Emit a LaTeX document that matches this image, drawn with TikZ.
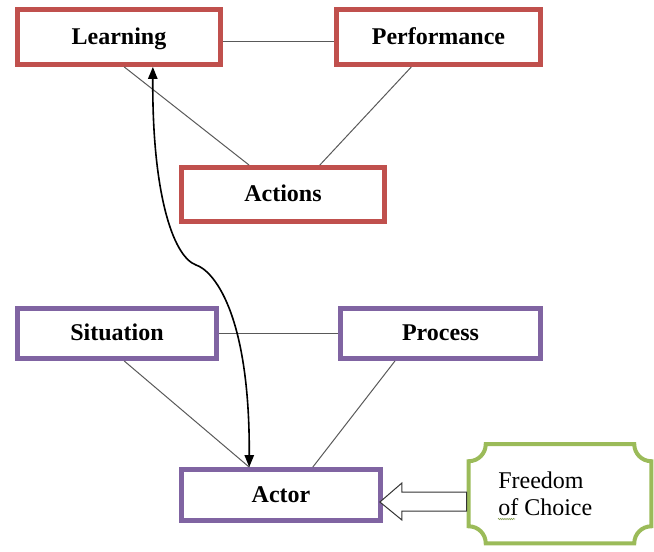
\documentclass[tikz,border=0pt]{standalone}
\usepackage{fontspec}
\setmainfont{Liberation Serif}
\usetikzlibrary{calc,arrows.meta,decorations.pathmorphing}
\definecolor{boxred}{HTML}{C0504D}
\definecolor{boxpurple}{HTML}{8064A2}
\definecolor{boxgreen}{HTML}{9BBB59}
\begin{document}
\begin{tikzpicture}[x=0.75pt,y=-0.75pt,
  box/.style={draw, line width=3.6pt, rectangle, inner sep=0pt, fill=white,
    text height=12pt, text depth=1.5pt,
    font=\fontsize{18}{20}\selectfont\bfseries},
  redbox/.style={box, draw=boxred},
  purplebox/.style={box, draw=boxpurple},
  link/.style={draw=black!65, line width=0.75pt},
  dblarrow/.style={draw=black, line width=1.2pt,
    {Triangle[length=9pt,width=7pt]}-{Triangle[length=9pt,width=7pt]}},
  blockarr/.style={draw=black!80, line width=0.75pt, fill=white, line join=miter},
  plaque/.style={draw=boxgreen, line width=3pt},
  plain/.style={font=\fontsize{18}{20}\selectfont, inner sep=0pt, anchor=base west}]
\useasboundingbox (0,0) rectangle (654,551);

% nodes
\node[redbox, minimum width=152.25pt, minimum height=41.25pt] (learn) at (119,37) {Learning};
\node[redbox, minimum width=153pt, minimum height=41.25pt] (perf) at (438.5,37) {Performance};
\node[redbox, minimum width=152.25pt, minimum height=40.5pt] (act) at (283,194.5) {Actions};
\node[purplebox, minimum width=149.25pt, minimum height=37.5pt] (sit) at (117,333.5) {Situation};
\node[purplebox, minimum width=150pt, minimum height=37.5pt] (proc) at (440.5,333.5) {Process};
\node[purplebox, minimum width=149.25pt, minimum height=38.25pt] (actor) at (281,495) {Actor};
\node[rectangle, inner sep=0pt, minimum width=136.5pt, minimum height=73.9pt] (free) at (560,493.75) {};

% green plaque outline
\draw[plaque]
  ($(free.north west)+(17,0)$) -- ($(free.north east)+(-17,0)$)
  arc[start angle=180, end angle=270, radius=12.75pt]
  -- ($(free.south east)+(0,-17)$)
  arc[start angle=90, end angle=180, radius=12.75pt]
  -- ($(free.south west)+(17,0)$)
  arc[start angle=0, end angle=90, radius=12.75pt]
  -- ($(free.north west)+(0,17)$)
  arc[start angle=270, end angle=360, radius=12.75pt] -- cycle;

\node[plain] (free1) at (498,488) {Freedom};
\node[plain] (free2) at (498,515) {of Choice};
\draw[boxgreen!80!black, line width=0.4pt, decorate,
  decoration={zigzag, amplitude=0.5pt, segment length=1.6pt}]
  ($(free2.base west)+(0,4)$) -- ($(free2.base west)+(17,4)$);

% thin connectors
\draw[link] ($(learn.north east)!0.57!(learn.south east)$) -- ($(perf.north west)!0.57!(perf.south west)$);
\draw[link] ($(learn.south west)!0.525!(learn.south east)$) -- ($(act.north west)!0.337!(act.north east)$);
\draw[link] ($(perf.south west)!0.37!(perf.south east)$) -- ($(act.north west)!0.677!(act.north east)$);
\draw[link] (sit.east) -- (proc.west);
\draw[link] ($(sit.south west)!0.535!(sit.south east)$) -- ($(actor.north west)!0.344!(actor.north east)$);
\draw[link] ($(proc.south west)!0.278!(proc.south east)$) -- ($(actor.north west)!0.656!(actor.north east)$);

% curved double arrow
\draw[dblarrow] ($(learn.south west)!0.663!(learn.south east)$)
  .. controls (152,190) and (172,256) .. (196,265)
  .. controls (212,270) and (250,310) .. ($(actor.north west)!0.344!(actor.north east)$);

% block arrow from Freedom of Choice to Actor
\coordinate (tip) at ($(actor.east)+(-3,7)$);
\draw[blockarr] (tip) -- ($(tip)+(22,-19)$) -- ($(tip)+(22,-10)$)
  -- ($(free.west |- tip)+(-2,-10)$) -- ($(free.west |- tip)+(-2,9)$)
  -- ($(tip)+(22,9)$) -- ($(tip)+(22,18)$) -- cycle;
\end{tikzpicture}
\end{document}
